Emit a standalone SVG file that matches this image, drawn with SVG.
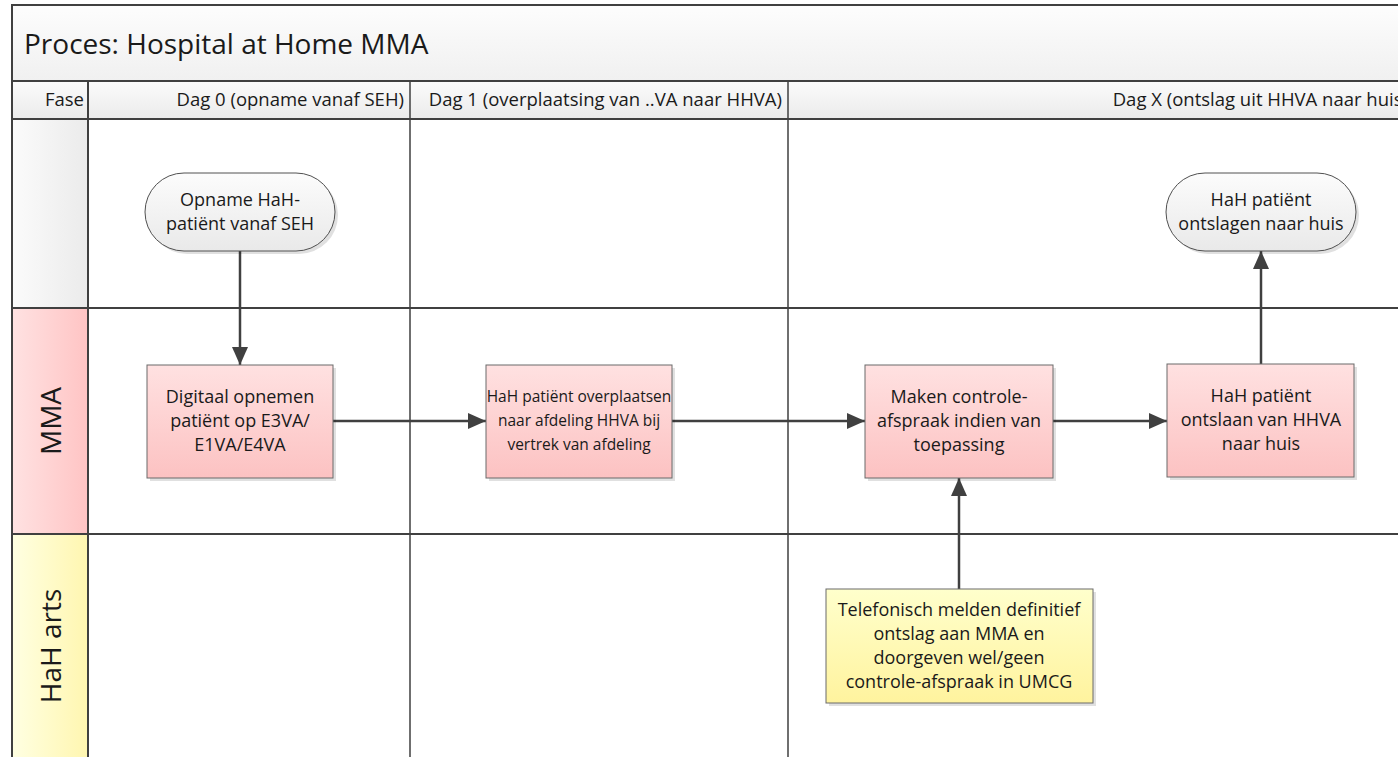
<svg xmlns="http://www.w3.org/2000/svg" width="1398" height="757" viewBox="0 0 1398 757">
<defs>
<style>
text{font-family:"Open Sans","Noto Sans","Liberation Sans",sans-serif;fill:#1a1a1a}
.t{font-size:18px;text-anchor:middle}
.h{font-size:18.5px;text-anchor:end}
.lane{font-size:28px;text-anchor:middle}
.grid{stroke:#404040;stroke-width:2;fill:none}
.col{stroke:#404040;stroke-width:1.5;fill:none}
.box{fill:url(#gPink);stroke:#6a6a6a;stroke-width:1}
.ybox{fill:url(#gYel);stroke:#6a6a6a;stroke-width:1}
.term{fill:url(#gTerm);stroke:#505050;stroke-width:1}
.sh{fill:#000;opacity:0.12}
.con{stroke:#404040;stroke-width:2.5;fill:none;marker-end:url(#arr)}
</style>
<linearGradient id="gPink" x1="0" y1="0" x2="0" y2="1"><stop offset="0" stop-color="#ffe1e1"/><stop offset="1" stop-color="#fcc2c2"/></linearGradient>
<linearGradient id="gYel" x1="0" y1="0" x2="0" y2="1"><stop offset="0" stop-color="#ffffcc"/><stop offset="1" stop-color="#fff39e"/></linearGradient>
<linearGradient id="gTerm" x1="0" y1="0" x2="0" y2="1"><stop offset="0" stop-color="#fcfcfc"/><stop offset="1" stop-color="#e9e9e9"/></linearGradient>
<linearGradient id="gTitle" x1="0" y1="0" x2="0" y2="1"><stop offset="0" stop-color="#fdfdfd"/><stop offset="1" stop-color="#f0f0f0"/></linearGradient>
<linearGradient id="gHead" x1="0" y1="0" x2="0" y2="1"><stop offset="0" stop-color="#fbfbfb"/><stop offset="1" stop-color="#ebebeb"/></linearGradient>
<linearGradient id="gL0" x1="0" y1="0" x2="1" y2="0"><stop offset="0" stop-color="#fbfbfb"/><stop offset="1" stop-color="#ebebeb"/></linearGradient>
<linearGradient id="gL1" x1="0" y1="0" x2="1" y2="0"><stop offset="0" stop-color="#ffe2e2"/><stop offset="1" stop-color="#ffc4c4"/></linearGradient>
<linearGradient id="gL2" x1="0" y1="0" x2="1" y2="0"><stop offset="0" stop-color="#ffffe2"/><stop offset="1" stop-color="#fff6b0"/></linearGradient>
<marker id="arr" markerUnits="userSpaceOnUse" markerWidth="20" markerHeight="18" refX="18" refY="8" orient="auto"><path d="M0,0 L18,8 L0,16 z" fill="#404040"/></marker>
</defs>
<rect width="1398" height="757" fill="#ffffff"/>
<g id="pool">
<rect x="12" y="5" width="1400" height="76" fill="url(#gTitle)"/>
<rect x="12" y="81" width="1400" height="38" fill="url(#gHead)"/>
<rect x="12" y="119" width="76" height="189" fill="url(#gL0)"/>
<rect x="12" y="308" width="76" height="226" fill="url(#gL1)"/>
<rect x="12" y="534" width="76" height="230" fill="url(#gL2)"/>
<text x="24" y="54" style="font-size:28px">Proces: Hospital at Home MMA</text>
<text class="h" x="84" y="106">Fase</text>
<text class="h" x="404" y="106">Dag 0 (opname vanaf SEH)</text>
<text class="h" x="782" y="106">Dag 1 (overplaatsing van ..VA naar HHVA)</text>
<text class="h" x="1408" y="106">Dag X (ontslag uit HHVA naar huis)</text>
<text class="lane" transform="translate(61,421) rotate(-90)">MMA</text>
<text class="lane" transform="translate(61,646) rotate(-90)">HaH arts</text>
<path class="grid" d="M12,770 V5 H1410 M12,81 H1410 M12,119 H1410 M12,308 H1410 M12,534 H1410 M88,81 V770"/>
<path class="col" d="M410,81 V770 M788,81 V770"/>
</g>
<g id="connectors">
<path class="con" d="M240,251 V365"/>
<path class="con" d="M333,421 H486"/>
<path class="con" d="M672,421 H865"/>
<path class="con" d="M1053,421 H1167"/>
<path class="con" d="M1261,364 V251"/>
<path class="con" d="M959,589 V478"/>
</g>
<g id="start">
<rect class="sh" x="148" y="176" width="190" height="78" rx="39"/>
<rect class="term" x="145" y="173" width="190" height="78" rx="39"/>
<text class="t"><tspan x="240" y="206">Opname HaH-</tspan><tspan x="240" y="230">patiënt vanaf SEH</tspan></text>
</g>
<g id="digitaal">
<rect class="sh" x="150" y="368" width="186" height="113"/>
<rect class="box" x="147" y="365" width="186" height="113"/>
<text class="t"><tspan x="240" y="403">Digitaal opnemen</tspan><tspan x="240" y="427">patiënt op E3VA/</tspan><tspan x="240" y="451">E1VA/E4VA</tspan></text>
</g>
<g id="overplaatsen">
<rect class="sh" x="489" y="368" width="186" height="113"/>
<rect class="box" x="486" y="365" width="186" height="113"/>
<text class="t" style="font-size:15.5px"><tspan x="579" y="402">HaH patiënt overplaatsen</tspan><tspan x="579" y="426">naar afdeling HHVA bij</tspan><tspan x="579" y="450">vertrek van afdeling</tspan></text>
</g>
<g id="controle">
<rect class="sh" x="868" y="368" width="188" height="113"/>
<rect class="box" x="865" y="365" width="188" height="113"/>
<text class="t"><tspan x="959" y="403">Maken controle-</tspan><tspan x="959" y="427">afspraak indien van</tspan><tspan x="959" y="451">toepassing</tspan></text>
</g>
<g id="ontslaan">
<rect class="sh" x="1170" y="367" width="187" height="113"/>
<rect class="box" x="1167" y="364" width="187" height="113"/>
<text class="t"><tspan x="1261" y="402">HaH patiënt</tspan><tspan x="1261" y="426">ontslaan van HHVA</tspan><tspan x="1261" y="450">naar huis</tspan></text>
</g>
<g id="einde">
<rect class="sh" x="1169" y="176" width="190" height="78" rx="39"/>
<rect class="term" x="1166" y="173" width="190" height="78" rx="39"/>
<text class="t"><tspan x="1261" y="206">HaH patiënt</tspan><tspan x="1261" y="230">ontslagen naar huis</tspan></text>
</g>
<g id="telefonisch">
<rect class="sh" x="829" y="592" width="267" height="114"/>
<rect class="ybox" x="826" y="589" width="267" height="114"/>
<text class="t"><tspan x="959" y="616">Telefonisch melden definitief</tspan><tspan x="959" y="640">ontslag aan MMA en</tspan><tspan x="959" y="664">doorgeven wel/geen</tspan><tspan x="959" y="688">controle-afspraak in UMCG</tspan></text>
</g>
</svg>
